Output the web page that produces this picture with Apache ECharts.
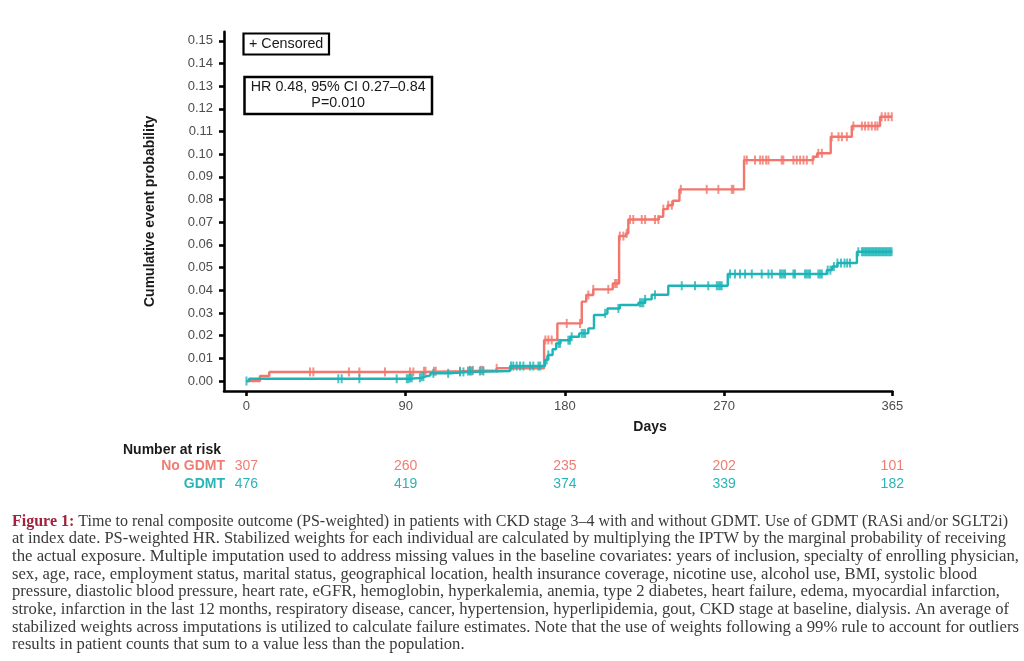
<!DOCTYPE html>
<html><head><meta charset="utf-8">
<script src="https://cdn.jsdelivr.net/npm/echarts@6/dist/echarts.min.js"></script>
<style>html,body{margin:0;padding:0;background:#fff}#c{width:1024px;height:661px}</style>
</head><body><div id="c"></div>
<script>
// ---- data ----
const noGdmtTimes = [0, 7.6, 12.9, 99, 121, 141.4, 168.2, 175.7, 189.5, 192, 196, 207, 210.6, 214.5, 215.8, 233, 235.5, 238, 241, 244.7, 281.2, 320.4, 322.5, 330.2, 342.1, 358.1, 365];
const noGdmtProb  = [0, 0.0022, 0.0040, 0.0043, 0.0047, 0.0056, 0.0181, 0.0254, 0.0350, 0.0379, 0.0404, 0.0430, 0.0639, 0.0651, 0.0712, 0.0724, 0.0758, 0.0775, 0.0795, 0.0845, 0.0974, 0.0989, 0.1004, 0.1077, 0.1124, 0.1165, 0.1165];
const gdmtTimes = [0, 1.5, 92.4, 99, 101, 104, 115, 125, 149, 168.7, 170.5, 173, 175, 177.5, 183, 188, 193.2, 196.4, 201.7, 204, 211, 221.5, 225.3, 229, 238.4, 272, 328, 331, 334, 345, 365];
const gdmtProb  = [0, 0.0010, 0.0014, 0.0019, 0.0025, 0.0034, 0.0040, 0.0044, 0.0066, 0.0093, 0.0115, 0.0140, 0.0166, 0.0180, 0.0195, 0.0210, 0.0232, 0.0291, 0.0298, 0.0320, 0.0335, 0.0345, 0.0360, 0.0380, 0.0420, 0.0472, 0.0489, 0.0505, 0.0520, 0.0570, 0.0570];
const noGdmtCensor = [35.9, 37.8, 57.9, 63.8, 78.3, 92.4, 94.3, 100.3, 101.2, 106, 107, 120.7, 126.3, 128, 132.5, 133.5, 141.4, 168.9, 170.6, 172.5, 181, 188.5, 193.2, 196, 204.5, 208.3, 209.3, 211, 213, 214.9, 216.8, 218.6, 223.4, 225.3, 230.9, 232.8, 235.6, 238.4, 240.4, 245.5, 260.1, 266.7, 274.3, 275.2, 281.4, 282.8, 287.4, 290.3, 291.8, 293.7, 295, 302.5, 303.4, 309.1, 311, 312.9, 314.8, 316.7, 320, 323.2, 325.2, 330.8, 334.6, 336.5, 339.3, 343, 347.8, 349.6, 351.5, 353.4, 355.3, 356.6, 359, 361, 362.8, 364.7];
const gdmtCensor = [0, 51.9, 53.8, 63.8, 84.9, 90.6, 91.5, 92.4, 93.4, 98, 99, 100, 105.6, 114, 120.7, 122.6, 125.2, 126.3, 127.3, 131.9, 133.9, 149.5, 150.8, 152.7, 154.6, 156.5, 160.3, 162.1, 165, 166, 169.7, 170.6, 176.3, 177.2, 181.9, 182.8, 183.8, 189.5, 190.5, 191.4, 202.7, 210.2, 222.4, 223.4, 224.3, 225.3, 230.9, 246, 253.5, 261, 265.8, 266.8, 267.7, 268.6, 273.3, 276.1, 278.9, 281.8, 285.6, 291.2, 295, 296.9, 301.6, 302.5, 303.5, 304.4, 309.1, 310, 315.7, 316.6, 317.6, 318.5, 323.2, 324.2, 325.2, 328.5, 330, 332, 334, 336, 338, 339.5, 341.1, 345.8, 347.8, 348.6, 349.4, 350.2, 351, 351.8, 352.6, 353.4, 354.2, 355, 355.8, 356.6, 357.4, 358.2, 359, 359.8, 360.6, 361.4, 362.2, 363, 363.8, 364.6];
const xTicks = [0, 90, 180, 270, 365];
const yTicks = [0, 0.01, 0.02, 0.03, 0.04, 0.05, 0.06, 0.07, 0.08, 0.09, 0.10, 0.11, 0.12, 0.13, 0.14, 0.15];
const riskTimes = [0, 90, 180, 270, 365];
const riskNoGdmt = [307, 260, 235, 202, 101];
const riskGdmt = [476, 419, 374, 339, 182];
const groupNames = ['No GDMT', 'GDMT'];
const hrText = ['HR 0.48, 95% CI 0.27\u20130.84', 'P=0.010'];
const captionLabel = 'Figure 1:';
const captionLines = [
  'Time to renal composite outcome (PS-weighted) in patients with CKD stage 3\u20134 with and without GDMT. Use of GDMT (RASi and/or SGLT2i)',
  'at index date. PS-weighted HR. Stabilized weights for each individual are calculated by multiplying the IPTW by the marginal probability of receiving',
  'the actual exposure. Multiple imputation used to address missing values in the baseline covariates: years of inclusion, specialty of enrolling physician,',
  'sex, age, race, employment status, marital status, geographical location, health insurance coverage, nicotine use, alcohol use, BMI, systolic blood',
  'pressure, diastolic blood pressure, heart rate, eGFR, hemoglobin, hyperkalemia, anemia, type 2 diabetes, heart failure, edema, myocardial infarction,',
  'stroke, infarction in the last 12 months, respiratory disease, cancer, hypertension, hyperlipidemia, gout, CKD stage at baseline, dialysis. An average of',
  'stabilized weights across imputations is utilized to calculate failure estimates. Note that the use of weights following a 99% rule to account for outliers',
  'results in patient counts that sum to a value less than the population.'
];
const captionEnds = [1008, 1006, 1019, 977, 1000, 1009, 1019, null];

// ---- styling ----
const RED = '#F2766C', TEAL = '#1CB4B7';
const RED_T = '#F07D73', TEAL_T = '#2BB4B6';
const SANS = '"Liberation Sans", Arial, sans-serif';

function stepAt(times, probs, t) {
  let v = probs[0];
  for (let i = 0; i < times.length; i++) { if (times[i] <= t) v = probs[i]; }
  return v;
}
const cv = document.createElement('canvas').getContext('2d');
function measure(text, font) { cv.font = font; return cv.measureText(text).width; }
function hasFont(name) {
  const s = 'abcdefghijklmnopqrstuvwxyzABCDEFG0123456789';
  return measure(s, '40px "' + name + '", monospace') !== measure(s, '40px monospace');
}
const narrow = hasFont('Liberation Sans Narrow');
const RISK_FONT = narrow ? '17px "Liberation Sans Narrow"' : '14px "Liberation Sans", Arial';
const RISK_FONT_B = narrow ? 'bold 17px "Liberation Sans Narrow"' : 'bold 14px "Liberation Sans", Arial';

const chart = echarts.init(document.getElementById('c'), null, {renderer: 'canvas'});
chart.setOption({
  animation: false,
  backgroundColor: '#ffffff',
  grid: {left: 224, right: 131.7, top: 31.7, bottom: 270, containLabel: false},
  xAxis: {
    type: 'value', min: -12.7, max: 365,
    axisLine: {onZero: false, lineStyle: {color: '#000', width: 2.6}},
    axisTick: {show: true, customValues: xTicks, length: 5, lineStyle: {color: '#000', width: 2.6}},
    axisLabel: {customValues: xTicks, margin: 9, color: '#4d4d4d', fontSize: 13, fontFamily: SANS},
    splitLine: {show: false}
  },
  yAxis: {
    type: 'value', min: -0.0044, max: 0.154,
    name: 'Cumulative event probability', nameLocation: 'middle', nameGap: 67,
    nameTextStyle: {fontWeight: 'bold', fontSize: 14, color: '#1a1a1a', fontFamily: SANS},
    axisLine: {show: true, onZero: false, lineStyle: {color: '#000', width: 2.6}},
    axisTick: {show: true, customValues: yTicks, length: 5, lineStyle: {color: '#000', width: 2.6}},
    axisLabel: {customValues: yTicks, margin: 11, color: '#4d4d4d', fontSize: 13, fontFamily: SANS,
      formatter: v => v.toFixed(2)},
    splitLine: {show: false}
  },
  series: [
    {name: groupNames[0], type: 'line', step: 'end', showSymbol: false, z: 2,
      lineStyle: {color: RED, width: 2.4}, itemStyle: {color: RED},
      data: noGdmtTimes.map((t, i) => [t, noGdmtProb[i]])},
    {name: groupNames[0] + ' censored', type: 'scatter', symbol: 'rect', symbolSize: [2, 9], z: 3,
      itemStyle: {color: RED},
      data: noGdmtCensor.map(t => [t, stepAt(noGdmtTimes, noGdmtProb, t)])},
    {name: groupNames[1], type: 'line', step: 'end', showSymbol: false, z: 4,
      lineStyle: {color: TEAL, width: 2.4}, itemStyle: {color: TEAL},
      data: gdmtTimes.map((t, i) => [t, gdmtProb[i]])},
    {name: groupNames[1] + ' censored', type: 'scatter', symbol: 'rect', symbolSize: [2, 9], z: 5,
      itemStyle: {color: TEAL},
      data: gdmtCensor.map(t => [t, stepAt(gdmtTimes, gdmtProb, t)])}
  ]
});

const g = [];
// Censored legend box
g.push({type: 'rect', shape: {x: 243.5, y: 33.5, width: 85.5, height: 21}, style: {fill: '#fff', stroke: '#000', lineWidth: 2.2}, z: 10});
g.push({type: 'text', x: 249, y: 44.3, style: {text: '+ Censored', font: '14.3px ' + SANS, fill: '#1a1a1a', align: 'left', verticalAlign: 'middle'}, z: 11});
// HR box
g.push({type: 'rect', shape: {x: 244.5, y: 77, width: 187.5, height: 37}, style: {fill: '#fff', stroke: '#000', lineWidth: 2.5}, z: 10});
g.push({type: 'text', x: 338.2, y: 87, style: {text: hrText[0], font: '14.3px ' + SANS, fill: '#1a1a1a', align: 'center', verticalAlign: 'middle'}, z: 11});
g.push({type: 'text', x: 338.2, y: 103.5, style: {text: hrText[1], font: '14.3px ' + SANS, fill: '#1a1a1a', align: 'center', verticalAlign: 'middle'}, z: 11});
// X axis title
g.push({type: 'text', x: 650, y: 427, style: {text: 'Days', font: 'bold 14px ' + SANS, fill: '#1a1a1a', align: 'center', verticalAlign: 'middle'}});
// Risk table
g.push({type: 'text', x: 123, y: 450, style: {text: 'Number at risk', font: RISK_FONT_B, fill: '#1a1a1a', align: 'left', verticalAlign: 'middle'}});
g.push({type: 'text', x: 225, y: 466.5, style: {text: groupNames[0], font: RISK_FONT_B, fill: RED_T, align: 'right', verticalAlign: 'middle'}});
g.push({type: 'text', x: 225, y: 484.5, style: {text: groupNames[1], font: RISK_FONT_B, fill: TEAL_T, align: 'right', verticalAlign: 'middle'}});
riskTimes.forEach((t, i) => {
  const px = chart.convertToPixel({xAxisIndex: 0}, t);
  g.push({type: 'text', x: px, y: 466.5, style: {text: String(riskNoGdmt[i]), font: RISK_FONT, fill: RED_T, align: 'center', verticalAlign: 'middle'}});
  g.push({type: 'text', x: px, y: 484.5, style: {text: String(riskGdmt[i]), font: RISK_FONT, fill: TEAL_T, align: 'center', verticalAlign: 'middle'}});
});
// Caption
const CAP_FONT = '17.5px "Liberation Serif", "Times New Roman", serif';
const CAP_FONT_B = 'bold 17.5px "Liberation Serif", "Times New Roman", serif';
const capX = 12, capY0 = 521, capDY = 17.7;
const labW = measure(captionLabel + ' ', CAP_FONT_B);
const scales = captionLines.map((line, i) => {
  if (captionEnds[i] == null) return null;
  const w = measure(line, CAP_FONT) + (i === 0 ? labW : 0);
  return (captionEnds[i] - capX) / w;
});
const valid = scales.filter(s => s != null).sort((a, b) => a - b);
const medScale = valid[Math.floor(valid.length / 2)];
captionLines.forEach((line, i) => {
  const y = capY0 + i * capDY;
  const s = scales[i] == null ? medScale : scales[i];
  if (i === 0) {
    g.push({type: 'text', x: capX, y: y, scaleX: s, style: {text: captionLabel, font: CAP_FONT_B, fill: '#A3223B', align: 'left', verticalAlign: 'middle'}});
    g.push({type: 'text', x: capX + labW * s, y: y, scaleX: s, style: {text: line, font: CAP_FONT, fill: '#3a3a3a', align: 'left', verticalAlign: 'middle'}});
  } else {
    g.push({type: 'text', x: capX, y: y, scaleX: s, style: {text: line, font: CAP_FONT, fill: '#3a3a3a', align: 'left', verticalAlign: 'middle'}});
  }
});
chart.setOption({graphic: {elements: g}});
</script>
</body></html>
